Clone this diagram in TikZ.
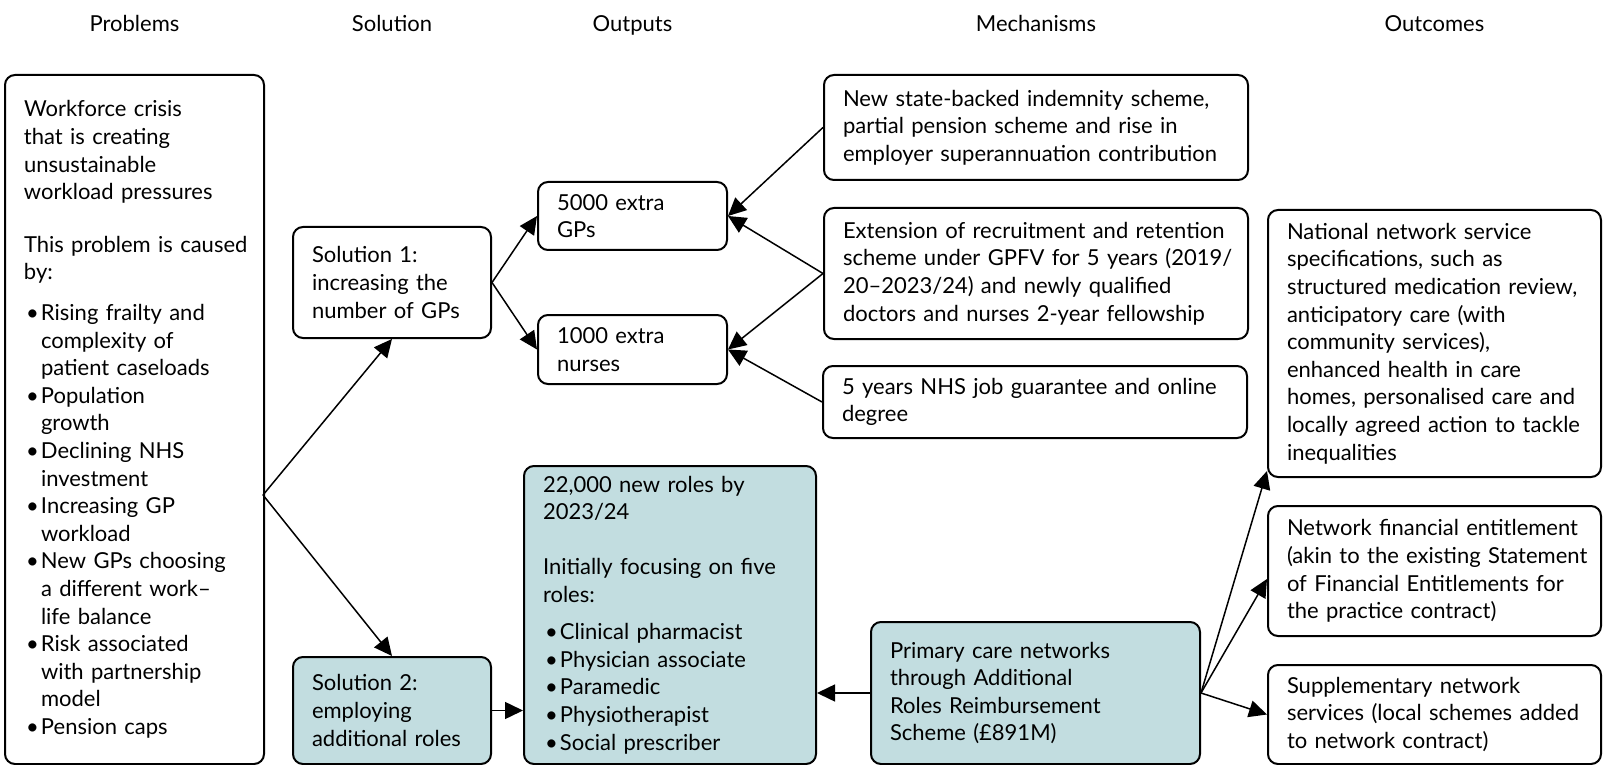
\documentclass[tikz,border=0pt]{standalone}
\usepackage{fontspec}
\setmainfont{Lato}
\usetikzlibrary{arrows.meta}
\definecolor{rolecolor}{RGB}{194,221,224}
\newcommand{\bl}{\makebox[8.5pt][l]{\hspace{1pt}\textbullet}}
\newcommand{\ii}{\hspace*{8.5pt}}
\tikzset{
    box/.style={
        draw, line width=1pt, rounded corners=5pt,
        anchor=north west, inner xsep=0pt, inner ysep=0pt,
        font=\fontsize{11pt}{13.8pt}\selectfont,
        execute at begin node={\parindent=0pt\leftskip=9.5pt\rightskip=0pt plus 1fil},
    },
    rolebox/.style={box, fill=rolecolor},
    link/.style={-{Triangle[length=9pt,width=8.5pt]}, line width=0.75pt},
    heading/.style={anchor=base, font=\fontsize{11pt}{13.8pt}\selectfont},
}

\begin{document}
\begin{tikzpicture}[x=0.5pt,y=-0.5pt]
\useasboundingbox (0,0) rectangle (1603,765);
% columns
\node[box, text width=129.5pt, minimum height=344.5pt, yshift=-2pt] (prob) at (4,70) {%
Workforce crisis\\
that is creating\\
unsustainable\\
workload pressures\\[12.5pt]
This problem is caused\\
by:\\[6.5pt]
\bl Rising frailty and\\
\ii complexity of\\
\ii patient caseloads\\
\bl Population\\
\ii growth\\
\bl Declining NHS\\
\ii investment\\
\bl Increasing GP\\
\ii workload\\
\bl New GPs choosing\\
\ii a different work–\\
\ii life balance\\
\bl Risk associated\\
\ii with partnership\\
\ii model\\
\bl Pension caps};
\node[box, text width=99pt, minimum height=55.5pt] (sol1) at (292,226)
    {Solution 1:\\ increasing the\\ number of GPs};
\node[rolebox, text width=99pt, minimum height=53.5pt] (sol2) at (292,656)
    {Solution 2:\\ employing\\ additional roles};
\node[box, text width=94.5pt, minimum height=34pt] (gps) at (537,181)
    {5000 extra\\ GPs};
\node[box, text width=94.5pt, minimum height=34.5pt] (nurses) at (537,314)
    {1000 extra\\ nurses};
\node[rolebox, text width=146pt, minimum height=149pt] (roles) at (523,465) {%
22,000 new roles by\\
2023/24\\[13.5pt]
Initially focusing on five\\
roles:\\[5pt]
\bl Clinical pharmacist\\
\bl Physician associate\\
\bl Paramedic\\
\bl Physiotherapist\\
\bl Social prescriber};
\node[box, text width=212pt, minimum height=52.5pt] (indem) at (823,74)
    {New state-backed indemnity scheme,\\ partial pension scheme and rise in\\ employer superannuation contribution};
\node[box, text width=212pt, minimum height=65.5pt] (ext) at (823,207)
    {Extension of recruitment and retention\\ scheme under GPFV for 5 years (2019/\\ 20–2023/24) and newly qualified\\ doctors and nurses 2-year fellowship};
\node[box, text width=212pt, minimum height=36pt] (job) at (822,365)
    {5 years NHS job guarantee and online\\ degree};
\node[rolebox, text width=164.5pt, minimum height=71pt] (pcn) at (870,621)
    {Primary care networks\\ through Additional\\ Roles Reimbursement\\ Scheme (£891M)};
\node[box, text width=166.5pt, minimum height=133.5pt] (nat) at (1267,209)
    {National network service\\ specifications, such as\\ structured medication review,\\ anticipatory care (with\\ community services),\\ enhanced health in care\\ homes, personalised care and\\ locally agreed action to tackle\\ inequalities};
\node[box, text width=166.5pt, minimum height=65pt] (fin) at (1267,505)
    {Network financial entitlement\\ (akin to the existing Statement\\ of Financial Entitlements for\\ the practice contract)};
\node[box, text width=166.5pt, minimum height=49.5pt] (supp) at (1267,664)
    {Supplementary network\\ services (local schemes added\\ to network contract)};
% headings
\node[heading] (hprob) at (prob.north |- 0,32) {Problems};
\node[heading] (hsol) at (sol1.north |- 0,32) {Solution};
\node[heading] (hout) at (gps.north |- 0,32) {Outputs};
\node[heading] (hmech) at (indem.north |- 0,32) {Mechanisms};
\node[heading] (hoc) at (nat.north |- 0,32) {Outcomes};
% arrows
\coordinate (split) at (263,495);
\draw[link] (split) -- (sol1.south);
\draw[link] (split) -- (sol2.north);
\draw[link] (sol1.east) -- (gps.west);
\draw[link] (sol1.east) -- (nurses.west);
\draw[link] (indem.west) -- (gps.east);
\draw[link] (ext.west) -- (gps.east);
\draw[link] (ext.west) -- (nurses.east);
\draw[link] (job.west) -- (nurses.east);
\draw[link] (sol2.east) -- (sol2.east -| roles.west);
\draw[link] (pcn.west) -- (pcn.west -| roles.east);
\draw[link] (pcn.east) -- ([yshift=3.5pt]nat.south west);
\draw[link] (pcn.east) -- ([yshift=-4pt]fin.west);
\draw[link] (pcn.east) -- (supp.west);
\end{tikzpicture}
\end{document}
